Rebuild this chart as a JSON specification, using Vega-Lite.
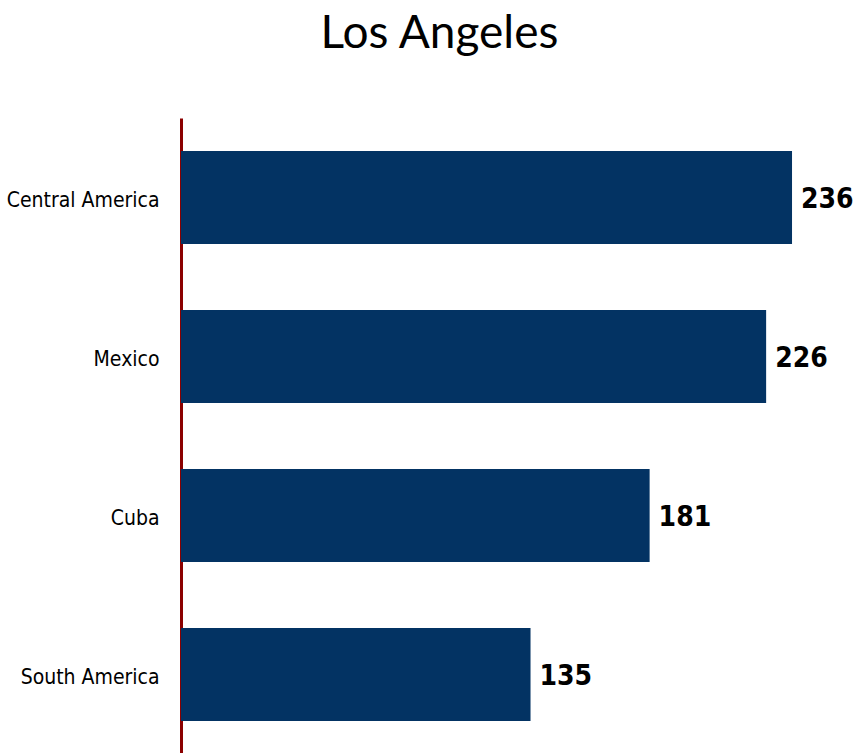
{
  "$schema": "https://vega.github.io/schema/vega-lite/v6.json",
  "autosize": {"type": "none"},
  "padding": {"left": 181, "top": 118, "right": 0, "bottom": 0},
  "width": 683,
  "height": 636,
  "background": "white",
  "title": {
    "text": "Los Angeles",
    "font": "Lato",
    "fontSize": 46,
    "fontWeight": "normal",
    "color": "black",
    "anchor": "middle",
    "dx": -83,
    "offset": 60
  },
  "data": {
    "values": [
      {"region": "Central America", "value": 236},
      {"region": "Mexico", "value": 226},
      {"region": "Cuba", "value": 181},
      {"region": "South America", "value": 135}
    ]
  },
  "encoding": {
    "y": {
      "field": "region",
      "type": "nominal",
      "sort": null,
      "scale": {"paddingInner": 0.415, "paddingOuter": 0.2075},
      "axis": {
        "title": null,
        "ticks": false,
        "domain": true,
        "domainColor": "#8B0000",
        "domainWidth": 3,
        "labelFont": "DejaVu Sans Condensed",
        "labelFontSize": 21,
        "labelColor": "black",
        "labelPadding": 22,
        "labelBaseline": "middle",
        "labelOffset": 3
      }
    },
    "x": {
      "field": "value",
      "type": "quantitative",
      "scale": {"domain": [0, 263.8], "nice": false},
      "axis": null
    }
  },
  "layer": [
    {"mark": {"type": "bar", "color": "#033363"}},
    {
      "mark": {
        "type": "text",
        "align": "left",
        "baseline": "middle",
        "dx": 9,
        "dy": 2,
        "font": "DejaVu Sans Condensed",
        "fontSize": 28,
        "fontWeight": "bold",
        "color": "black"
      },
      "encoding": {"text": {"field": "value", "type": "quantitative"}}
    }
  ],
  "config": {"view": {"stroke": null}}
}
